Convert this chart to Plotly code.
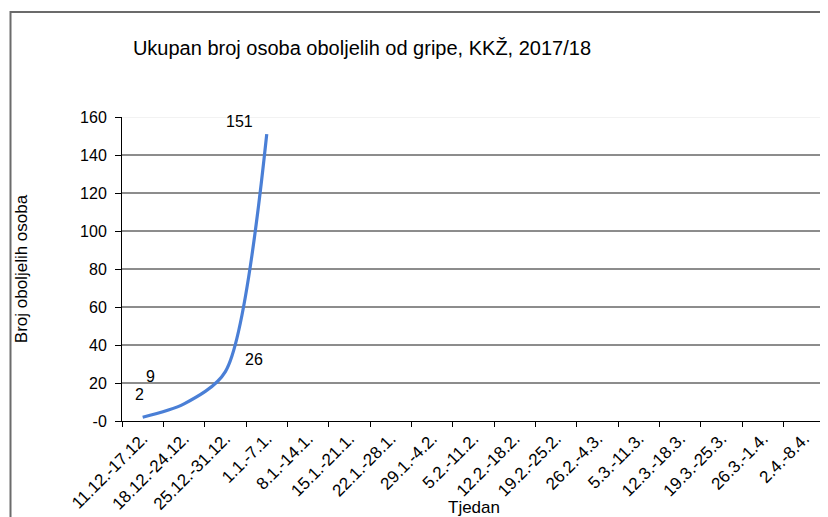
import plotly.graph_objects as go

weeks = ["11.12.-17.12.", "18.12.-24.12.", "25.12.-31.12.", "1.1.-7.1.", "8.1.-14.1.",
         "15.1.-21.1.", "22.1.-28.1.", "29.1.-4.2.", "5.2.-11.2.", "12.2.-18.2.",
         "19.2.-25.2.", "26.2.-4.3.", "5.3.-11.3.", "12.3.-18.3.", "19.3.-25.3.",
         "26.3.-1.4.", "2.4.-8.4."]
cases = [2, 9, 26, 151]
label_shift = [(-3, 23), (-34, 27), (29, 12), (-27, 13)]
y_ticks = [0, 20, 40, 60, 80, 100, 120, 140, 160]
y_ticktext = ["-0", "20", "40", "60", "80", "100", "120", "140", "160"]

FONT = "Liberation Sans, Arial, sans-serif"

fig = go.Figure()
fig.add_trace(go.Scatter(
    x=weeks[:len(cases)], y=cases, mode="lines",
    line=dict(color="#4a7fd6", width=3.2, shape="spline", smoothing=0.8),
    hoverinfo="x+y", showlegend=False,
))
# invisible trace to register all categories
fig.add_trace(go.Scatter(x=weeks, y=[None] * len(weeks), mode="lines", showlegend=False, hoverinfo="skip"))

for w, v, (dx, dy) in zip(weeks, cases, label_shift):
    fig.add_annotation(x=w, y=v, text=str(v), showarrow=False, xshift=dx, yshift=dy,
                       font=dict(family=FONT, size=16, color="black"))

# x-axis title
fig.add_annotation(text="Tjedan", xref="paper", yref="paper", x=0.5, y=-0.283,
                   xanchor="center", yanchor="middle", showarrow=False,
                   font=dict(family=FONT, size=17, color="black"))

# gridlines
for t in y_ticks[1:-1]:
    fig.add_shape(type="line", xref="paper", yref="y", x0=0, x1=1, y0=t, y1=t,
                  line=dict(color="#1a1a1a", width=1), layer="below")
fig.add_shape(type="line", xref="paper", yref="y", x0=0, x1=1, y0=y_ticks[-1], y1=y_ticks[-1],
              line=dict(color="#e6e6e6", width=1), layer="below")
# chart border
fig.add_shape(type="rect", xref="paper", yref="paper", x0=-0.1586, x1=1.2, y0=-0.6, y1=1.345,
              line=dict(color="#6b6b6b", width=2), fillcolor="rgba(0,0,0,0)")

fig.update_layout(
    width=828, height=517,
    margin=dict(l=114, r=11, t=109, b=104),
    paper_bgcolor="white", plot_bgcolor="white",
    font=dict(family=FONT, color="black"),
    title=dict(text="Ukupan broj osoba oboljelih od gripe, KKŽ, 2017/18",
               xref="container", x=0.4275, xanchor="center",
               yref="container", y=0.9226, yanchor="middle",
               font=dict(family=FONT, size=20, color="black")),
    xaxis=dict(type="category", categoryorder="array", categoryarray=weeks,
               range=[-0.5, len(weeks) - 0.5], tickangle=-45, tickson="boundaries",
               ticks="outside", ticklen=5, tickcolor="black", showline=True, linecolor="black",
               showgrid=False, zeroline=False, tickfont=dict(family=FONT, size=17),
               automargin=False, fixedrange=True),
    yaxis=dict(range=[0, 160], tickvals=y_ticks, ticktext=y_ticktext,
               ticks="outside", ticklen=6, tickcolor="black", showline=True, linecolor="black",
               showgrid=False, zeroline=False, tickfont=dict(family=FONT, size=16),
               ticklabelstandoff=5,
               title=dict(text="Broj oboljelih osoba", font=dict(family=FONT, size=17), standoff=48),
               automargin=False, fixedrange=True),
)

fig.write_html("out.html")
